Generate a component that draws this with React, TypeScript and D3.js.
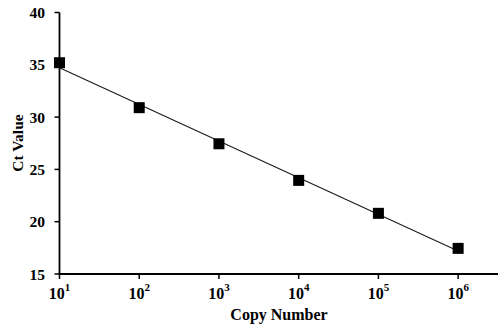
import React from "react";
import * as d3 from "d3";

const exponents = [1, 2, 3, 4, 5, 6];
const ctValues = [35.2, 30.9, 27.45, 23.95, 20.8, 17.45];
const yTicks = [15, 20, 25, 30, 35, 40];
const xLabel = "Copy Number";
const yLabel = "Ct Value";

const W = 500;
const H = 332;

export default function App() {
  const x = d3.scaleLog().domain([10, Math.pow(10, 6.5)]).range([59.5, 498]);
  const y = d3.scaleLinear().domain([15, 40]).range([274, 12.5]);

  const xs = exponents;
  const mx = d3.mean(xs) as number;
  const my = d3.mean(ctValues) as number;
  let num = 0, den = 0;
  xs.forEach((e, i) => { num += (e - mx) * (ctValues[i] - my); den += (e - mx) * (e - mx); });
  const slope = num / den;
  const intercept = my - slope * mx;
  const fitPts: [number, number][] = [xs[0], xs[xs.length - 1]].map((e) => [x(Math.pow(10, e)), y(intercept + slope * e)]);
  const line = d3.line()(fitPts) as string;

  const font = "'Liberation Serif', 'Times New Roman', serif";
  const ms = 11;

  return (
    <svg width={W} height={H} style={{ position: "absolute", left: 0, top: 0, background: "#fff" }} fontFamily={font}>
      <path d={line} stroke="#1a1a1a" strokeWidth={1.1} fill="none" />
      {xs.map((e, i) => (
        <rect key={i} x={x(Math.pow(10, e)) - ms / 2} y={y(ctValues[i]) - ms / 2} width={ms} height={ms} fill="#000" />
      ))}
      {/* y axis */}
      <line x1={59.5} x2={59.5} y1={y(40)} y2={y(15)} stroke="#000" strokeWidth={1.8} />
      {yTicks.map((t) => (
        <g key={t}>
          <line x1={54.5} x2={59.5} y1={y(t)} y2={y(t)} stroke="#000" strokeWidth={1.5} />
          <text x={45} y={y(t)} dy="0.36em" textAnchor="end" fontSize={15.5} fontWeight="bold">{t}</text>
        </g>
      ))}
      {/* x axis */}
      <line x1={58.6} x2={498} y1={274} y2={274} stroke="#000" strokeWidth={1.8} />
      {xs.map((e) => (
        <g key={e}>
          <line x1={x(Math.pow(10, e))} x2={x(Math.pow(10, e))} y1={274} y2={279} stroke="#000" strokeWidth={1.5} />
          <text x={x(Math.pow(10, e))} y={299} textAnchor="middle" fontSize={16} fontWeight="bold">
            10<tspan fontSize={11} dy={-8}>{e}</tspan>
          </text>
        </g>
      ))}
      <text x={279} y={320} textAnchor="middle" fontSize={16} fontWeight="bold">{xLabel}</text>
      <text transform={`translate(22.5,143) rotate(-90)`} textAnchor="middle" fontSize={15.5} fontWeight="bold">{yLabel}</text>
    </svg>
  );
}
